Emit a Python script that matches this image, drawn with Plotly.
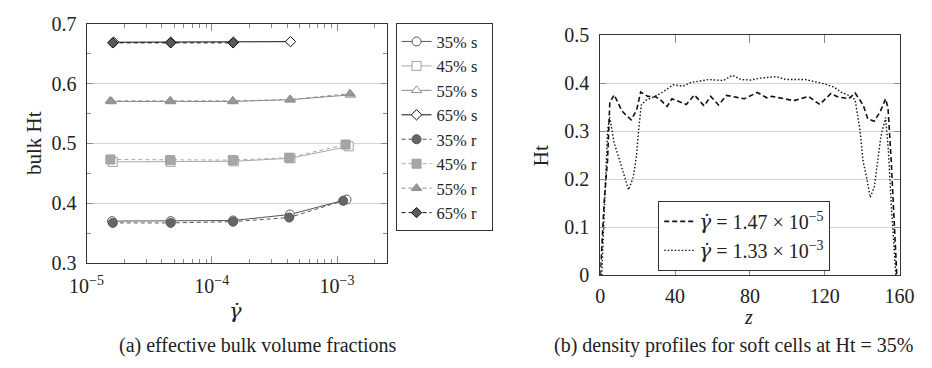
import math
import plotly.graph_objects as go

W, H = 932, 368

# ---------------- (a) bulk volume fraction vs shear rate ----------------
series_names = ["35% s", "45% s", "55% s", "65% s", "35% r", "45% r", "55% r", "65% r"]

rate_35s = [1.60e-5, 4.70e-5, 1.48e-4, 4.20e-4, 1.19e-3]
ht_35s = [0.370, 0.370, 0.371, 0.381, 0.406]
rate_45s = [1.62e-5, 4.70e-5, 1.50e-4, 4.25e-4, 1.24e-3]
ht_45s = [0.469, 0.469, 0.470, 0.475, 0.495]
rate_55s = [1.58e-5, 4.70e-5, 1.48e-4, 4.25e-4, 1.28e-3]
ht_55s = [0.570, 0.570, 0.570, 0.573, 0.581]
rate_65s = [1.65e-5, 4.70e-5, 1.49e-4, 4.25e-4]
ht_65s = [0.669, 0.669, 0.669, 0.670]

rate_35r = [1.62e-5, 4.70e-5, 1.48e-4, 4.15e-4, 1.12e-3]
ht_35r = [0.367, 0.367, 0.369, 0.376, 0.404]
rate_45r = [1.55e-5, 4.65e-5, 1.47e-4, 4.15e-4, 1.17e-3]
ht_45r = [0.473, 0.472, 0.472, 0.476, 0.498]
rate_55r = [1.55e-5, 4.65e-5, 1.47e-4, 4.20e-4, 1.27e-3]
ht_55r = [0.571, 0.571, 0.571, 0.573, 0.583]
rate_65r = [1.62e-5, 4.70e-5, 1.48e-4]
ht_65r = [0.668, 0.668, 0.668]

x_tick_vals = [1e-5, 1e-4, 1e-3]
x_tick_text = ["10<sup>\u22125</sup>", "10<sup>\u22124</sup>", "10<sup>\u22123</sup>"]

# ---------------- (b) density profiles ----------------
z_slow = [0, 2.2, 3.9, 5.1, 7.4, 9.5, 11.7, 14.0, 16.5, 19.4, 21.6, 25.4, 29.7, 32.3,
          35.7, 38.3, 42.6, 46.0, 50.3, 55.5, 59.0, 63.2, 67.5, 72.7, 77.0, 83.9, 89.0,
          91.6, 97.5, 103.5, 111.3, 117.3, 123.3, 126.8, 132.8, 136.2, 140.5, 143.0,
          146.4, 149.5, 152.5, 153.8, 155.5, 157.0, 158.5]
ht_slow = [0.0, 0.16, 0.24, 0.36, 0.376, 0.358, 0.342, 0.333, 0.324, 0.344, 0.382, 0.373,
           0.372, 0.365, 0.352, 0.368, 0.362, 0.356, 0.376, 0.353, 0.373, 0.355, 0.375,
           0.372, 0.368, 0.381, 0.370, 0.373, 0.368, 0.364, 0.373, 0.356, 0.379, 0.372,
           0.368, 0.380, 0.355, 0.326, 0.321, 0.340, 0.368, 0.348, 0.24, 0.12, 0.0]

z_fast = [0.8, 2.2, 3.9, 5.1, 7.4, 10.0, 12.5, 15.1, 17.7, 19.4, 20.2, 21.9, 24.4, 28.7,
          33.0, 39.0, 44.2, 48.5, 58.0, 65.8, 70.6, 75.2, 80.4, 85.5, 94.1, 99.3, 109.6,
          114.8, 119.9, 125.1, 128.5, 132.8, 136.2, 138.8, 140.5, 142.3, 144.3, 146.5,
          149.1, 150.0, 152.5, 154.0, 155.5, 157.0, 158.0]
ht_fast = [0.0, 0.126, 0.303, 0.329, 0.276, 0.244, 0.211, 0.178, 0.205, 0.250, 0.290, 0.355,
           0.365, 0.372, 0.381, 0.397, 0.394, 0.402, 0.408, 0.406, 0.417, 0.408, 0.407,
           0.411, 0.414, 0.408, 0.408, 0.404, 0.399, 0.392, 0.382, 0.375, 0.366, 0.303,
           0.237, 0.205, 0.162, 0.185, 0.257, 0.290, 0.329, 0.26, 0.15, 0.05, 0.0]

GAMMA_DOT = "<span style='font-family:DejaVu Serif'><i>\u03b3\u0307</i></span>"
profile_names = [GAMMA_DOT + " = 1.47 \u00d7 10<sup>\u22125</sup>",
                 GAMMA_DOT + " = 1.33 \u00d7 10<sup>\u22123</sup>"]

FONT = "Liberation Serif, DejaVu Serif, serif"
INK = "#222222"


def px_x(p):
    return p / W


def px_y(p):
    return 1 - p / H


fig = go.Figure()

# style per series: (line colour, marker symbol, marker fill, marker edge, dash)
styles = [
    ("#555555", "circle", "white", "#555555", "solid"),
    ("#a8a8a8", "square", "white", "#a0a0a0", "solid"),
    ("#8c8c8c", "triangle-up", "white", "#8c8c8c", "solid"),
    ("#111111", "diamond", "white", "#111111", "solid"),
    ("#555555", "circle", "#666666", "#555555", "4px,3px"),
    ("#a8a8a8", "square", "#a6a6a6", "#a0a0a0", "4px,3px"),
    ("#8c8c8c", "triangle-up", "#999999", "#8c8c8c", "4px,3px"),
    ("#111111", "diamond", "#5a5a5a", "#111111", "4px,3px"),
]
xs = [rate_35s, rate_45s, rate_55s, rate_65s, rate_35r, rate_45r, rate_55r, rate_65r]
ys = [ht_35s, ht_45s, ht_55s, ht_65s, ht_35r, ht_45r, ht_55r, ht_65r]

for name, x, y, (lc, sym, fill, edge, dash) in zip(series_names, xs, ys, styles):
    fig.add_trace(go.Scatter(
        x=x, y=y, name=name + "\u00a0\u00a0", mode="lines+markers",
        line=dict(color=lc, width=1, dash=dash),
        marker=dict(symbol=sym, size=9 if sym != "diamond" else 8, color=fill,
                    line=dict(color=edge, width=1)),
        xaxis="x", yaxis="y", legend="legend",
    ))

fig.add_trace(go.Scatter(
    x=z_slow, y=ht_slow, name=profile_names[0], mode="lines",
    line=dict(color="#111111", width=1.6, dash="5px,3px"),
    xaxis="x2", yaxis="y2", legend="legend2",
))
fig.add_trace(go.Scatter(
    x=z_fast, y=ht_fast, name=profile_names[1], mode="lines",
    line=dict(color="#111111", width=1.4, dash="1.5px,2px"),
    xaxis="x2", yaxis="y2", legend="legend2",
))

minor_log = [m * 10 ** e for e in (-5, -4, -3) for m in range(2, 10)]

axis_common = dict(
    showline=True, linecolor="#333333", linewidth=1, mirror="ticks",
    ticks="inside", tickcolor="#8a8a8a", tickwidth=1,
    tickfont=dict(family=FONT, size=20, color=INK),
    zeroline=False, fixedrange=True,
)

fig.update_layout(
    width=W, height=H,
    margin=dict(l=0, r=0, t=0, b=0),
    paper_bgcolor="white", plot_bgcolor="white",
    font=dict(family=FONT, size=18, color=INK),
    xaxis=dict(
        type="log", range=[-5, math.log10(2.5e-3)],
        domain=[px_x(72), px_x(383)], anchor="y",
        tickvals=x_tick_vals, ticktext=x_tick_text, ticklen=7, showgrid=False,
        minor=dict(tickvals=minor_log, ticks="inside", ticklen=4, tickcolor="#8a8a8a",
                   showgrid=False),
        ticklabelstandoff=5,
        **axis_common,
    ),
    yaxis=dict(
        range=[0.3, 0.7], domain=[px_y(268), px_y(13.5)], anchor="x",
        tickvals=[0.3, 0.4, 0.5, 0.6, 0.7], ticktext=["0.3", "0.4", "0.5", "0.6", "0.7"],
        ticklen=6, showgrid=True, gridcolor="#d4d4d4", gridwidth=1,
        minor=dict(tickvals=[0.35, 0.45, 0.55, 0.65], ticks="inside", ticklen=4,
                   tickcolor="#8a8a8a", showgrid=False),
        ticklabelstandoff=5,
        **axis_common,
    ),
    xaxis2=dict(
        range=[0, 160], domain=[px_x(604), px_x(914)], anchor="y2",
        tickvals=[0, 40, 80, 120, 160], ticktext=["0", "40", "80", "120", "160"],
        ticklen=8, showgrid=False, ticklabelstandoff=3,
        **axis_common,
    ),
    yaxis2=dict(
        range=[0, 0.5], domain=[px_y(281), px_y(26)], anchor="x2",
        tickvals=[0, 0.1, 0.2, 0.3, 0.4, 0.5],
        ticktext=["0", "0.1", "0.2", "0.3", "0.4", "0.5"],
        ticklen=6, showgrid=True, gridcolor="#d4d4d4", gridwidth=1,
        ticklabelstandoff=6,
        **axis_common,
    ),
    legend=dict(
        x=px_x(392), y=px_y(13), xanchor="left", yanchor="top",
        bordercolor="#333333", borderwidth=1, bgcolor="white",
        font=dict(family=FONT, size=16.5, color=INK),
        traceorder="normal", tracegroupgap=0,
    ),
    legend2=dict(
        x=px_x(664), y=px_y(202), xanchor="left", yanchor="top",
        bordercolor="#333333", borderwidth=1, bgcolor="white",
        font=dict(family=FONT, size=20, color=INK),
        traceorder="normal",
    ),
    showlegend=True,
)

annotations = [
    dict(text="bulk Ht", x=px_x(17), y=px_y(140), textangle=-90),
    dict(text="Ht", x=px_x(542), y=px_y(154), textangle=-90),
    dict(text=GAMMA_DOT, x=px_x(226), y=px_y(319)),
    dict(text="<i>z</i>", x=px_x(758), y=px_y(325),
         font=dict(family=FONT, size=20, color=INK)),
    dict(text="(a) effective bulk volume fractions", x=px_x(250), y=px_y(356),
         font=dict(family=FONT, size=20, color=INK)),
    dict(text="(b) density profiles for soft cells at Ht = 35%", x=px_x(742), y=px_y(356),
         font=dict(family=FONT, size=20, color=INK)),
]
for a in annotations:
    a.setdefault("font", dict(family=FONT, size=21, color=INK))
    fig.add_annotation(xref="paper", yref="paper", showarrow=False,
                       xanchor="center", yanchor="middle", **a)

fig.write_html("out.html")
